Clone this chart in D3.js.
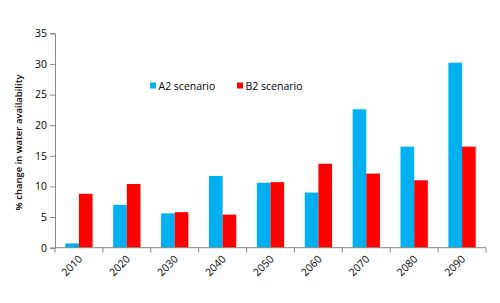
<!DOCTYPE html>
<html><head><meta charset="utf-8">
<script src="https://cdn.jsdelivr.net/npm/d3@7"></script>
<style>body{margin:0;background:#fff}svg{display:block}</style>
</head><body>
<script>
const categories = ["2010","2020","2030","2040","2050","2060","2070","2080","2090"];
const seriesNames = ["A2 scenario","B2 scenario"];
const a2 = [0.7, 7.0, 5.6, 11.7, 10.6, 9.0, 22.6, 16.5, 30.2];
const b2 = [8.8, 10.4, 5.8, 5.4, 10.7, 13.7, 12.1, 11.0, 16.5];
const yTicks = [0,5,10,15,20,25,30,35];
const colors = ["#00B0F0","#FF0000"];

const W=500,H=303;
const m={left:55,right:14,top:33.3,bottom:55.3};
const svg=d3.select("body").append("svg").attr("width",W).attr("height",H);
const x=d3.scaleBand().domain(categories).range([m.left,W-m.right]).paddingInner(0.43).paddingOuter(0.215);
const xs=d3.scaleBand().domain(seriesNames).range([0,x.bandwidth()]);
const y=d3.scaleLinear().domain([0,35]).range([H-m.bottom,m.top]);
const font="'Open Sans', 'Liberation Sans', sans-serif";

const series=[a2,b2];
seriesNames.forEach((s,si)=>{
  svg.append("g").selectAll("rect").data(categories).join("rect")
    .attr("x",(c)=>x(c)+xs(s)).attr("width",xs.bandwidth())
    .attr("y",(c,i)=>y(series[si][i])).attr("height",(c,i)=>y(0)-y(series[si][i]))
    .attr("fill",colors[si]);
});

// y axis
const ya=svg.append("g").attr("transform",`translate(${m.left},0)`)
  .call(d3.axisLeft(y).tickValues(yTicks).tickSize(5).tickPadding(3));
ya.select(".domain").attr("stroke","#868686");
ya.selectAll(".tick line").attr("stroke","#868686");
ya.selectAll(".tick text").attr("font-family",font).attr("font-size","10.5px").attr("fill","#000");

// x axis
const xa=svg.append("g").attr("transform",`translate(0,${y(0)})`);
xa.append("line").attr("x1",m.left).attr("x2",W-m.right).attr("stroke","#868686");
const step=x.step();
const bounds=d3.range(categories.length+1).map(i=>m.left+i*step);
xa.selectAll("line.t").data(bounds).join("line").attr("class","t")
  .attr("x1",d=>d).attr("x2",d=>d).attr("y1",0).attr("y2",5).attr("stroke","#868686");
xa.selectAll("text").data(categories).join("text")
  .attr("font-family",font).attr("font-size","10.5px").attr("fill","#000")
  .attr("text-anchor","end")
  .attr("transform",d=>`translate(${x(d)+x.bandwidth()/2+4},${12}) rotate(-45)`)
  .text(d=>d);

// y label
svg.append("text").attr("font-family",font).attr("font-size","9.5px").attr("font-weight","600")
  .attr("text-anchor","middle").attr("transform",`translate(22,${(y(0)+y(35))/2+2}) rotate(-90)`)
  .text("% change in water availability");

// legend
const leg=[{x:150},{x:237}];
seriesNames.forEach((s,i)=>{
  svg.append("rect").attr("x",leg[i].x).attr("y",82.5).attr("width",6).attr("height",6).attr("fill",colors[i]);
  svg.append("text").attr("x",leg[i].x+8.5).attr("y",90).attr("font-family",font).attr("font-size","10.5px").attr("fill","#000").text(s);
});
</script>
</body></html>
